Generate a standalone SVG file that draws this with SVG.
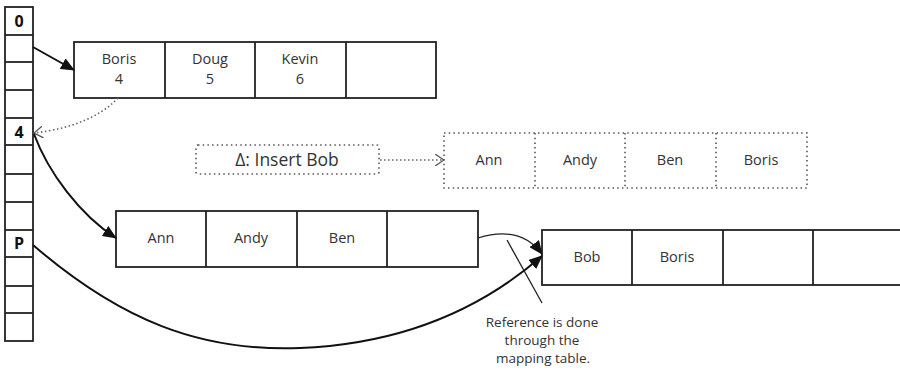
<svg xmlns="http://www.w3.org/2000/svg" width="900" height="373" viewBox="0 0 900 373">
<style>
.box{fill:#fff;stroke:#222;stroke-width:1.8}
.div{stroke:#222;stroke-width:1.8}
.dbox{fill:none;stroke:#555;stroke-width:1.6;stroke-dasharray:1.5 3.2}
.t{font-family:"Open Sans","Liberation Sans",sans-serif;font-size:14.5px;fill:#333;text-anchor:middle}
.n{font-family:"Open Sans","Liberation Sans",sans-serif;font-size:13.5px;fill:#333;text-anchor:middle}
.lbl{font-family:"Open Sans","Liberation Sans",sans-serif;font-size:16px;font-weight:bold;fill:#111;text-anchor:middle}
.conn{fill:none;stroke:#111;stroke-width:2}
.thin{fill:none;stroke:#222;stroke-width:1.3}
.dot{fill:none;stroke:#666;stroke-width:1.6;stroke-dasharray:1.5 2.5}
</style>
<defs>
<marker id="fa" markerUnits="userSpaceOnUse" markerWidth="14" markerHeight="12" refX="13" refY="6" orient="auto"><path d="M0,0 L14,6 L0,12 Z" fill="#111"/></marker>
<marker id="oa" markerUnits="userSpaceOnUse" markerWidth="10" markerHeight="12" refX="9" refY="6" orient="auto"><path d="M0,0 L9,6 L0,12" fill="none" stroke="#555" stroke-width="1.3"/></marker>
</defs>

<g id="mapping-table">
<rect class="box" x="5" y="7" width="28" height="334"/>
<g class="div">
<line x1="5" y1="35" x2="33" y2="35"/><line x1="5" y1="62" x2="33" y2="62"/><line x1="5" y1="90" x2="33" y2="90"/><line x1="5" y1="118" x2="33" y2="118"/><line x1="5" y1="145" x2="33" y2="145"/><line x1="5" y1="174" x2="33" y2="174"/><line x1="5" y1="202" x2="33" y2="202"/><line x1="5" y1="230" x2="33" y2="230"/><line x1="5" y1="257" x2="33" y2="257"/><line x1="5" y1="286" x2="33" y2="286"/><line x1="5" y1="313" x2="33" y2="313"/>
</g>
<text class="lbl" x="19" y="27">0</text>
<text class="lbl" x="19" y="138">4</text>
<text class="lbl" x="19" y="249">P</text>
</g>

<g id="page-top">
<rect class="box" x="74" y="42" width="362" height="56"/>
<line class="div" x1="165" y1="42" x2="165" y2="98"/><line class="div" x1="255" y1="42" x2="255" y2="98"/><line class="div" x1="346" y1="42" x2="346" y2="98"/>
<text class="t" x="119" y="64">Boris</text><text class="t" x="119" y="84">4</text>
<text class="t" x="210" y="64">Doug</text><text class="t" x="210" y="84">5</text>
<text class="t" x="300" y="64">Kevin</text><text class="t" x="300" y="84">6</text>
</g>

<g id="delta">
<rect class="dbox" x="196" y="145" width="183" height="29" rx="2"/>
<text class="t" x="287" y="166" style="font-size:17.5px">Δ: Insert Bob</text>
</g>

<g id="page-delta">
<rect class="dbox" x="444" y="133" width="363" height="55"/>
<line class="dbox" x1="535" y1="133" x2="535" y2="188"/><line class="dbox" x1="625" y1="133" x2="625" y2="188"/><line class="dbox" x1="716" y1="133" x2="716" y2="188"/>
<text class="t" x="489" y="165">Ann</text>
<text class="t" x="580" y="165">Andy</text>
<text class="t" x="670" y="165">Ben</text>
<text class="t" x="761" y="165">Boris</text>
</g>

<g id="page-left">
<rect class="box" x="116" y="211" width="362" height="56"/>
<line class="div" x1="206" y1="211" x2="206" y2="267"/><line class="div" x1="297" y1="211" x2="297" y2="267"/><line class="div" x1="387" y1="211" x2="387" y2="267"/>
<text class="t" x="161" y="243">Ann</text>
<text class="t" x="251" y="243">Andy</text>
<text class="t" x="342" y="243">Ben</text>
</g>

<g id="page-right">
<rect class="box" x="542" y="230" width="370" height="55"/>
<line class="div" x1="632" y1="230" x2="632" y2="285"/><line class="div" x1="723" y1="230" x2="723" y2="285"/><line class="div" x1="813" y1="230" x2="813" y2="285"/>
<text class="t" x="587" y="262">Bob</text>
<text class="t" x="677" y="262">Boris</text>
</g>

<g id="note">
<text class="n" x="542" y="327">Reference is done</text>
<text class="n" x="542" y="345">through the</text>
<text class="n" x="543" y="363">mapping table.</text>
</g>

<g id="connectors">
<path class="conn" d="M33,47 L74,70" marker-end="url(#fa)"/>
<path class="dot" d="M118,98 C95,122 60,130 34,133" marker-end="url(#oa)"/>
<path class="conn" d="M34,134 C48,172 80,215 116,238" marker-end="url(#fa)"/>
<path class="conn" d="M33,245 C120,320 200,352 300,348 C400,344 480,310 542,256" marker-end="url(#fa)"/>
<path class="thin" d="M478,238 C510,228 530,238 542,254" marker-end="url(#fa)"/>
<path class="thin" d="M507,240 L542,303"/>
<path class="dot" d="M380,160 L444,160" marker-end="url(#oa)"/>
</g>
</svg>
